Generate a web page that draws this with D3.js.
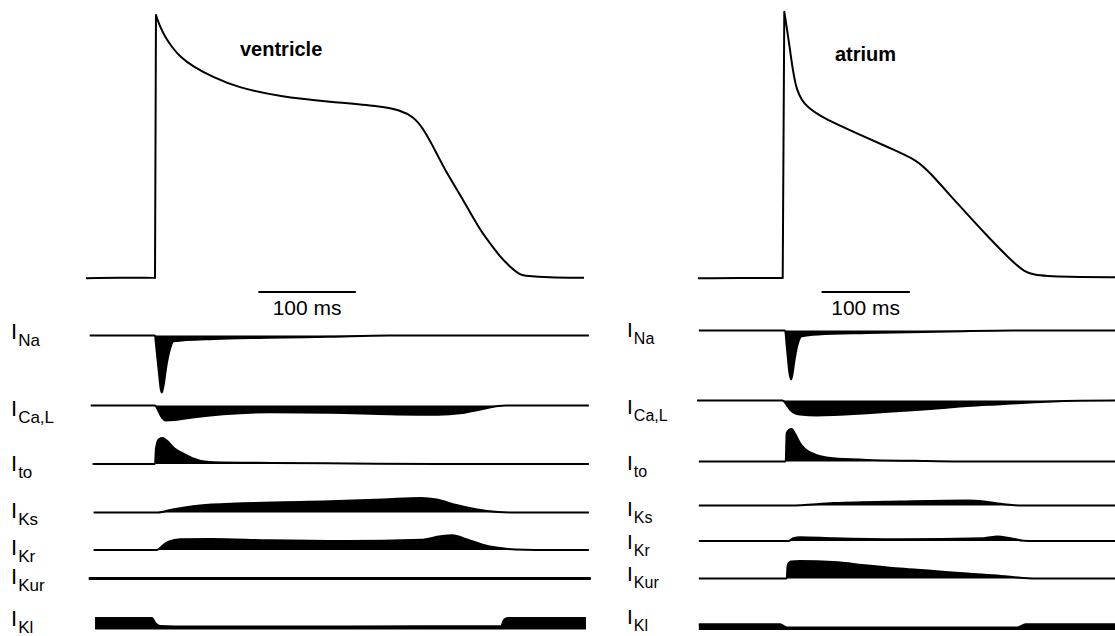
<!DOCTYPE html>
<html>
<head>
<meta charset="utf-8">
<script src="https://cdn.jsdelivr.net/npm/d3@7"></script>
<style>
body { margin: 0; background: #fff; }
svg { display: block; font-family: Arial, "Liberation Sans", Helvetica, sans-serif; }
</style>
</head>
<body>
<svg id="main" width="1115" height="636"></svg>
<script>
// action potentials: [time ms, membrane potential mV]
const ventAP = [[-70.8, -85.1], [-2, -84.7], [0, -85], [1, 45], [5.1, 39.2], [10.3, 34.3], [17.1, 29.3],
    [25.6, 24.4], [39.3, 19.4], [59.8, 14.2], [83.8, 9.3], [128.2, 4.6], [179.5, 2.1], [230.8, 0],
    [251.3, -2], [264.9, -5.3], [275.2, -11], [288.9, -23.4], [299.2, -33.2], [316.2, -46.4],
    [333.3, -61.3], [343.6, -67.8], [353.8, -74.5], [364.1, -79.4], [374.4, -83.5], [381.2, -84],
    [401.7, -84.7], [440, -84.9]];
const atrAP = [[-96, -85.1], [-3, -84.9], [0, -85], [1.8, 46.6], [4.5, 39.2], [8.3, 27.7], [12, 16.2],
    [15.9, 7.9], [21.6, 3], [27.3, -0.3], [46.1, -6.1], [84.1, -13.5], [121.9, -20.9], [152.3, -26.7],
    [167.4, -33.2], [197.7, -48.1], [235.6, -66.2], [265.9, -79.4], [281, -84], [322.7, -84.4], [380, -84.7]];

// currents: [time ms, relative current], outward > 0, inward < 0
const ventINa = [[-67, 0], [0, 0], [1, -0.15], [4, -0.65], [6, -0.95], [7, -1], [8.5, -0.9], [12, -0.5],
    [16, -0.2], [19, -0.1], [60, -0.06], [116, -0.04], [180, -0.02], [240, 0], [445, 0]];
const ventICaL = [[-66, 0], [0, 0], [3, -0.3], [7, -0.8], [11, -1], [20, -0.97], [38, -0.8], [70, -0.58],
    [117, -0.45], [180, -0.48], [240, -0.58], [290, -0.62], [315, -0.5], [335, -0.25], [352, -0.03], [360, 0], [445, 0]];
const ventIto = [[-64, 0], [0, 0], [1, 0.6], [4, 0.95], [8, 1], [12, 0.9], [20, 0.6], [30, 0.38], [40, 0.2],
    [47, 0.12], [60, 0.07], [120, 0.04], [200, 0.02], [290, 0], [445, 0]];
const ventIKs = [[-63, 0], [3, 0], [18, 0.2], [58, 0.53], [156, 0.71], [234, 0.87], [273, 0.97], [289, 0.87],
    [309, 0.5], [329, 0.22], [352, 0.04], [370, 0], [445, 0]];
const ventIKr = [[-63, 0], [2, 0], [8, 0.3], [14, 0.56], [26, 0.71], [58, 0.73], [116, 0.65], [195, 0.6],
    [273, 0.68], [293, 0.92], [305, 0.98], [320, 0.71], [336, 0.36], [352, 0.15], [370, 0.03], [390, 0], [445, 0]];
const ventIKur = [[-68, 0], [447, 0]];
const ventIK1 = [[-61.5, 1], [-3, 1], [0, 0.6], [5, 0.3], [20, 0.27], [200, 0.27], [355, 0.3], [358, 0.85],
    [362, 1], [442, 1]];

const atrINa = [[-95, 0], [2.6, 0], [5, -0.4], [7.5, -0.85], [9.4, -1], [11, -0.9], [13, -0.65], [16, -0.35],
    [21.6, -0.12], [40, -0.08], [95, -0.05], [190, -0.02], [260, 0], [380, 0]];
const atrICaL = [[-97, 0], [0, 0], [4, -0.25], [8.3, -0.6], [14, -0.85], [19.7, -0.93], [38.6, -1], [95.5, -0.85],
    [133, -0.7], [171, -0.55], [209, -0.37], [247, -0.25], [300, -0.08], [337, -0.02], [380, 0]];
const atrIto = [[-95, 0], [3.4, 0], [4.5, 0.87], [7, 0.97], [10.2, 1], [14, 0.85], [19.7, 0.56], [31, 0.28],
    [57, 0.1], [95.5, 0.05], [150, 0.02], [200, 0], [380, 0]];
const atrIKs = [[-95, 0], [8.3, 0], [57.5, 0.48], [133, 0.8], [209, 1], [228, 0.8], [247, 0.34], [270, 0], [380, 0]];
const atrIKr = [[-95, 0], [6.4, 0], [12, 0.6], [19.7, 0.85], [57.5, 0.62], [133, 0.4], [228, 0.62], [243, 1],
    [258, 0.62], [273, 0.07], [285, 0], [380, 0]];
const atrIKur = [[-95, 0], [4.5, 0], [5.5, 0.7], [6.4, 0.85], [9.4, 0.97], [19.7, 1], [57.5, 0.94], [95.5, 0.75],
    [133, 0.57], [171, 0.43], [209, 0.28], [247, 0.15], [273, 0.03], [290, 0], [380, 0]];
const atrIK1 = [[-95, 1], [-3, 1], [4.5, 0.45], [266, 0.45], [275, 1], [380, 1]];

const currentNames = ['Na', 'Ca,L', 'to', 'Ks', 'Kr', 'Kur', 'Kl'];
const panelTitles = ['ventricle', 'atrium'];
const scaleBarLabel = '100 ms';
const scaleBarMs = 100;

const svg = d3.select('#main');

const yVolt = d3.scaleLinear().domain([-85, 45]).range([278, 15]);

const panels = [
    {
        title: panelTitles[0], ap: ventAP,
        currents: [ventINa, ventICaL, ventIto, ventIKs, ventIKr, ventIKur, ventIK1],
        x: d3.scaleLinear().domain([0, 100]).range([155, 252.5]),
        titlePos: [240, 56],
        barStart: 106,
        labelX: 11, labelSize: 22, subSize: 17,
        labelY: [339, 416, 471, 518, 555, 584, 626],
        base: [335.5, 405.5, 464, 512.5, 550, 578.5, 629.5],
        gain: [57, 15, 26, 15, 15, 0, 11.5]
    },
    {
        title: panelTitles[1], ap: atrAP,
        currents: [atrINa, atrICaL, atrIto, atrIKs, atrIKr, atrIKur, atrIK1],
        x: d3.scaleLinear().domain([0, 100]).range([782.7, 871]),
        titlePos: [835, 61],
        barStart: 44,
        labelX: 627, labelSize: 21, subSize: 16,
        labelY: [337, 414, 470, 516, 549, 581, 624],
        base: [330.5, 400.5, 461.5, 505.5, 541, 578.5, 630],
        gain: [49, 15, 32.5, 5, 4.5, 17.5, 5.7]
    }
];

// keep the upstroke sharp under the B-spline: repeat the foot and the peak
function sharpen(ap) {
    const peak = d3.maxIndex(ap, d => d[1]);
    const out = [];
    ap.forEach((d, i) => {
        const n = (i === peak || i === peak - 1) ? 3 : 1;
        for (let k = 0; k < n; k++) out.push(d);
    });
    return out;
}

panels.forEach(p => {
    const g = svg.append('g');

    // action potential
    const apLine = d3.line()
        .x(d => p.x(d[0]))
        .y(d => yVolt(d[1]))
        .curve(d3.curveBasis);
    g.append('path')
        .attr('d', apLine(sharpen(p.ap)))
        .attr('fill', 'none')
        .attr('stroke', '#000')
        .attr('stroke-width', 2)
        .attr('stroke-linejoin', 'round');

    g.append('text')
        .text(p.title)
        .attr('x', p.titlePos[0])
        .attr('y', p.titlePos[1])
        .attr('font-size', 20)
        .attr('font-weight', 'bold');

    // time scale bar
    const bx0 = p.x(p.barStart);
    const bx1 = p.x(p.barStart + scaleBarMs);
    g.append('line')
        .attr('x1', bx0).attr('x2', bx1)
        .attr('y1', 292).attr('y2', 292)
        .attr('stroke', '#000')
        .attr('stroke-width', 2);
    g.append('text')
        .text(scaleBarLabel)
        .attr('x', (bx0 + bx1) / 2)
        .attr('y', 315)
        .attr('text-anchor', 'middle')
        .attr('font-size', 21);

    // current traces
    p.currents.forEach((cur, i) => {
        const y = d3.scaleLinear().domain([0, 1]).range([p.base[i], p.base[i] - p.gain[i]]);
        const area = d3.area()
            .x(d => p.x(d[0]))
            .y0(y(0))
            .y1(d => y(d[1]))
            .curve(d3.curveMonotoneX);
        const line = d3.line()
            .x(d => p.x(d[0]))
            .y(d => y(d[1]))
            .curve(d3.curveMonotoneX);
        g.append('path')
            .attr('d', area(cur))
            .attr('fill', '#000');
        g.append('path')
            .attr('d', line(cur))
            .attr('fill', 'none')
            .attr('stroke', '#000')
            .attr('stroke-width', p.gain[i] === 0 ? 3 : 2);

        const label = g.append('text')
            .attr('x', p.labelX)
            .attr('y', p.labelY[i])
            .attr('font-size', p.labelSize);
        label.append('tspan').text('I');
        label.append('tspan')
            .attr('dx', 1)
            .attr('dy', 7)
            .attr('font-size', p.subSize)
            .text(currentNames[i]);
    });
});
</script>
</body>
</html>
